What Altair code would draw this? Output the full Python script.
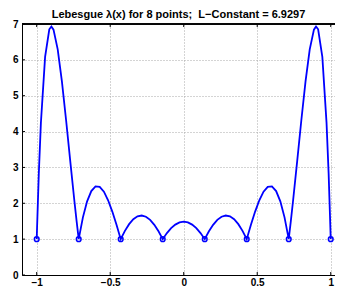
import altair as alt
import pandas as pd

# Lebesgue function values (x, lambda(x))
x_vals = [-1.0, -0.98571, -0.97143, -0.94286, -0.91429, -0.9, -0.88571, -0.85714, -0.82857, -0.8,
          -0.77143, -0.74286, -0.72857, -0.71429,
          -0.68571, -0.65714, -0.62857, -0.6, -0.57143, -0.54286, -0.51429, -0.48571, -0.45714, -0.42857,
          -0.4, -0.37143, -0.34286, -0.31429, -0.28571, -0.25714, -0.22857, -0.2, -0.17143, -0.14286,
          -0.11429, -0.08571, -0.05714, -0.02857, 0.0,
          0.02857, 0.05714, 0.08571, 0.11429, 0.14286,
          0.17143, 0.2, 0.22857, 0.25714, 0.28571, 0.31429, 0.34286, 0.37143, 0.4, 0.42857,
          0.45714, 0.48571, 0.51429, 0.54286, 0.57143, 0.6, 0.62857, 0.65714, 0.68571, 0.71429,
          0.72857, 0.74286, 0.77143, 0.8, 0.82857, 0.85714, 0.88571, 0.9, 0.91429, 0.94286,
          0.97143, 0.98571, 1.0]
y_vals = [1.0, 2.824, 4.248, 6.084, 6.853, 6.930, 6.843, 6.294, 5.399, 4.315,
          3.163, 2.036, 1.503, 1.0,
          1.607, 2.055, 2.341, 2.471, 2.459, 2.323, 2.085, 1.769, 1.400, 1.0,
          1.231, 1.418, 1.554, 1.635, 1.659, 1.626, 1.538, 1.400, 1.218, 1.0,
          1.169, 1.306, 1.406, 1.468, 1.488,
          1.468, 1.406, 1.306, 1.169, 1.0,
          1.218, 1.400, 1.538, 1.626, 1.659, 1.635, 1.554, 1.418, 1.231, 1.0,
          1.400, 1.769, 2.085, 2.323, 2.459, 2.471, 2.341, 2.055, 1.607, 1.0,
          1.503, 2.036, 3.163, 4.315, 5.399, 6.294, 6.843, 6.930, 6.853, 6.084,
          4.248, 2.824, 1.0]

node_x = [-1.0, -0.71429, -0.42857, -0.14286, 0.14286, 0.42857, 0.71429, 1.0]
node_y = [1, 1, 1, 1, 1, 1, 1, 1]

x_ticks = [-1, -0.5, 0, 0.5, 1]
y_ticks = [0, 1, 2, 3, 4, 5, 6, 7]

W, H = 313, 251
FONT = "Liberation Sans"

curve = pd.DataFrame({"x": x_vals, "y": y_vals})
nodes = pd.DataFrame({"x": node_x, "y": node_y})
xt = pd.DataFrame({"t": x_ticks})
yt = pd.DataFrame({"t": y_ticks})

xscale = alt.Scale(domain=[-1.1, 1.029], nice=False, zero=False)
yscale = alt.Scale(domain=[0, 7], nice=False, zero=False)

xaxis = alt.Axis(values=x_ticks, title=None, grid=True, ticks=False, labelPadding=2,
                 format="~g", labelOverlap=False)
yaxis = alt.Axis(values=y_ticks, title=None, grid=True, ticks=False, labelPadding=4,
                 labelOverlap=False)

line = alt.Chart(curve).mark_line(color="#0000ff", strokeWidth=1.8).encode(
    x=alt.X("x:Q", scale=xscale, axis=xaxis),
    y=alt.Y("y:Q", scale=yscale, axis=yaxis),
)

pts = alt.Chart(nodes).mark_point(shape="circle", filled=False, color="#0000ff",
                                  size=22, strokeWidth=1.5, opacity=1).encode(
    x=alt.X("x:Q", scale=xscale, axis=xaxis),
    y=alt.Y("y:Q", scale=yscale, axis=yaxis),
)

tick_bottom = alt.Chart(xt).mark_rule(color="black", strokeWidth=1).encode(
    x=alt.X("t:Q", scale=xscale, axis=xaxis), y=alt.value(H), y2=alt.value(H - 3))
tick_top = alt.Chart(xt).mark_rule(color="black", strokeWidth=1).encode(
    x=alt.X("t:Q", scale=xscale, axis=xaxis), y=alt.value(0), y2=alt.value(3))
tick_left = alt.Chart(yt).mark_rule(color="black", strokeWidth=1).encode(
    y=alt.Y("t:Q", scale=yscale, axis=yaxis), x=alt.value(0), x2=alt.value(3))
top_border = alt.Chart(xt).mark_rule(color="black", strokeWidth=1).encode(
    x=alt.value(0), x2=alt.value(W), y=alt.value(0))

chart = alt.layer(line, pts, tick_bottom, tick_top, tick_left, top_border).properties(
    width=W, height=H,
    title=alt.TitleParams("Lebesgue λ(x) for 8 points;\u00a0 L−Constant = 6.9297",
                          font=FONT, fontSize=11, fontWeight="bold", color="black",
                          anchor="middle", offset=-1),
    autosize=alt.AutoSizeParams(type="none"),
    padding={"left": 14, "top": 16, "right": 0, "bottom": 11},
).configure_view(stroke=None).configure_axis(
    domainColor="black", domainWidth=1,
    gridColor="#a8a8a8", gridDash=[1, 2], gridWidth=1, gridOpacity=1,
    labelFont=FONT, labelFontSize=10, labelFontWeight="bold", labelColor="black",
)

chart.save("out.html", embed_options={"renderer": "svg", "actions": False})
